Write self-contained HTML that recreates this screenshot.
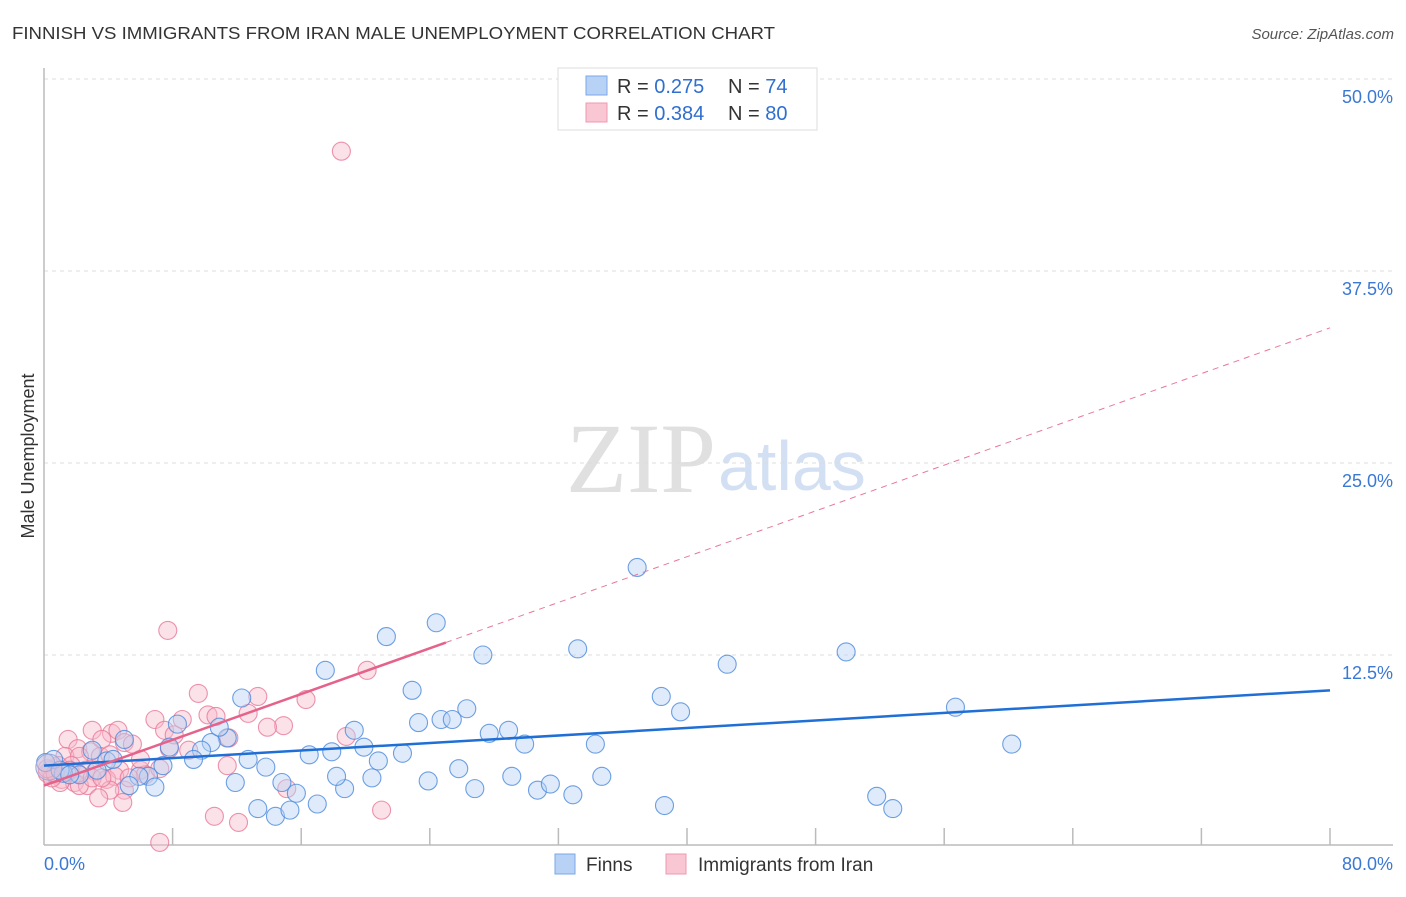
<!DOCTYPE html>
<html><head><meta charset="utf-8"><style>
body{margin:0;background:#fff;font-family:"Liberation Sans",sans-serif;}
svg text{font-family:"Liberation Sans",sans-serif;}
</style></head><body>
<svg id="chart" width="1406" height="892" viewBox="0 0 1406 892">
<text x="12" y="39" font-size="17.5" fill="#333" textLength="763" lengthAdjust="spacingAndGlyphs">FINNISH VS IMMIGRANTS FROM IRAN MALE UNEMPLOYMENT CORRELATION CHART</text>
<text x="1394" y="39" font-size="15" fill="#555" font-style="italic" text-anchor="end">Source: ZipAtlas.com</text>
<text x="34" y="456" font-size="18" fill="#333" transform="rotate(-90 34 456)" text-anchor="middle">Male Unemployment</text>
<text x="716" y="492" font-size="100" fill="#e0e0e0" text-anchor="end" style="font-family:'Liberation Serif',serif">ZIP</text>
<text x="718" y="490" font-size="70" fill="#d3e0f3">atlas</text>
<g id="grid"></g>
<g id="axes"></g>
<g id="pts"></g>
<g id="lines"></g>
<g>
<rect x="558" y="68" width="259" height="62" fill="#fff" stroke="#ddd"/>
<rect x="586" y="76" width="21" height="19" fill="#b8d2f5" stroke="#7aa8e8"/>
<rect x="586" y="103" width="21" height="19" fill="#f9c6d4" stroke="#ee9ab2"/>
<text x="617" y="93" font-size="20" fill="#333">R = <tspan fill="#2f6fd0">0.275</tspan></text>
<text x="728" y="93" font-size="20" fill="#333">N = <tspan fill="#2f6fd0">74</tspan></text>
<text x="617" y="120" font-size="20" fill="#333">R = <tspan fill="#2f6fd0">0.384</tspan></text>
<text x="728" y="120" font-size="20" fill="#333">N = <tspan fill="#2f6fd0">80</tspan></text>
</g>
<g>
<rect x="555" y="854" width="20" height="20" fill="#b8d2f5" stroke="#7aa8e8"/>
<text x="586" y="871" font-size="19" fill="#333">Finns</text>
<rect x="666" y="854" width="20" height="20" fill="#f9c6d4" stroke="#ee9ab2"/>
<text x="698" y="871" font-size="19" fill="#333">Immigrants from Iran</text>
</g>
</svg>
<script>
const yTicks=[12.5,25,37.5,50];
const yTickLabels=["12.5%","25.0%","37.5%","50.0%"];
const xTickCount=10;
const xLabels=["0.0%","80.0%"];
const finnsX=[21.3,24.4,36.9,17.5,27.3,33.2,42.5,49.9,22.9,12.3,26.3,38.4,39.6,56.7,23.3,24.7,25.4,19.3,27.7,28.9,29.9,34.3,60.2,11.4,10.4,8.3,10.9,7.8,9.8,7.4,9.3,12.7,16.5,17.9,19.9,20.8,22.3,13.8,14.8,15.7,17.0,18.7,20.4,18.2,23.9,25.8,26.8,29.1,30.7,31.5,32.9,34.7,38.6,51.8,52.8,13.3,14.4,15.3,11.9,6.5,6.9,5.9,5.0,3.9,4.3,3.0,2.2,1.2,0.6,0.1,5.3,3.3,1.0,1.6];
const finnsY=[13.7,14.6,18.2,11.5,12.5,12.9,11.9,12.7,10.2,9.7,9.0,9.8,8.8,9.1,8.1,8.3,8.3,7.6,7.4,7.6,6.7,6.7,6.7,7.1,6.8,8.0,7.8,6.5,6.3,5.3,5.7,5.7,6.0,6.2,6.5,5.6,6.1,5.2,4.2,3.5,2.8,3.8,4.5,4.6,4.3,5.1,3.8,4.6,3.7,4.1,3.4,4.6,2.7,3.3,2.5,2.5,2.0,2.4,4.2,4.6,3.9,4.6,7.0,5.6,5.7,6.3,4.7,4.8,5.7,5.5,4.0,5.0,5.0,4.7];
const iranX=[18.5,7.7,20.1,9.6,13.3,16.3,10.2,12.7,6.9,8.6,10.7,14.9,13.9,18.8,11.5,3.0,4.2,4.6,7.5,7.8,5.0,1.5,2.1,3.6,2.9,5.5,1.3,2.2,3.5,4.1,0.9,1.7,2.6,3.2,4.7,6.0,0.4,0.2,0.7,1.1,1.9,2.7,3.9,4.4,6.3,5.0,4.1,3.4,4.9,2.2,1.0,0.5,11.4,15.1,21.0,10.6,12.1,7.2,1.6,2.1,1.4,0.7,0.2,3.0,3.6,5.3,8.1,9.0,6.0,7.2];
const iranY=[45.3,14.1,11.5,10.0,9.8,9.6,8.6,8.7,8.3,8.3,8.5,7.9,7.8,7.2,7.1,7.6,7.4,7.6,7.6,6.4,6.8,7.0,6.4,7.0,6.2,6.7,5.9,5.9,5.9,6.0,5.3,5.3,5.0,4.9,5.0,5.0,5.0,4.8,4.7,4.4,4.2,4.0,4.4,4.6,4.7,3.7,3.7,3.2,2.9,4.0,4.2,4.5,5.3,3.8,2.4,2.0,1.6,0.3,5.0,4.8,4.9,4.8,5.1,4.5,4.5,4.5,7.3,6.3,5.7,5.1];
const finnsTrend=[5.3,10.2];
const iranTrend=[4.0,33.8];
const iranSolidEnd=25;
const ns="http://www.w3.org/2000/svg";
const X0=44,X1=1330,Y0=847,PXPER=192/12.5;
function sx(v){return X0+(X1-X0)*v/80;}
function sy(v){return Y0-v*PXPER;}
function mk(tag,attrs,parent){const e=document.createElementNS(ns,tag);for(const k in attrs)e.setAttribute(k,attrs[k]);parent.appendChild(e);return e;}
const grid=document.getElementById('grid'),axes=document.getElementById('axes'),pts=document.getElementById('pts'),lines=document.getElementById('lines');
yTicks.forEach((t,i)=>{
 const l=mk('line',{x1:X0,x2:1393,y1:sy(t),y2:sy(t),stroke:'#ddd','stroke-dasharray':'4,4'},grid);
 
 
 const tx=mk('text',{x:1393,y:sy(t)+24,'font-size':18,fill:'#3a78d4','text-anchor':'end'},axes);
 tx.textContent=yTickLabels[i];
 
 
});
let a=mk('line',{x1:X0,x2:X0,y1:68,y2:845,stroke:'#bbb','stroke-width':1.5},axes);


a=mk('line',{x1:X0,x2:1393,y1:845,y2:845,stroke:'#bbb','stroke-width':1.5},axes);


for(let i=1;i<=xTickCount;i++){
 const t=mk('line',{x1:sx(i*8),x2:sx(i*8),y1:828,y2:845,stroke:'#bbb','stroke-width':1.5},axes);
 
 
}
let xl=mk('text',{x:44,y:870,'font-size':18,fill:'#3a78d4'},axes);xl.textContent=xLabels[0];


xl=mk('text',{x:1393,y:870,'font-size':18,fill:'#3a78d4','text-anchor':'end'},axes);xl.textContent=xLabels[1];


function dots(xs,ys,fill,stroke,name){
 xs.forEach((x,i)=>{
  const c=mk('circle',{cx:sx(x),cy:sy(ys[i]),r:9,fill:fill,'fill-opacity':0.45,stroke:stroke,'stroke-opacity':0.8,'stroke-width':1.1},pts);
  
  
 });
}
dots(iranX,iranY,'#f7bccd','#e87898','point-iran');
dots(finnsX,finnsY,'#b8d2f5','#4a88dc','point-finns');
let big=mk('circle',{cx:sx(0.3),cy:sy(5.2),r:13,fill:'#d9bfd8','fill-opacity':0.5,stroke:'#9aa8d8'},pts);


let L=mk('line',{x1:sx(0),y1:sy(finnsTrend[0]),x2:sx(80),y2:sy(finnsTrend[1]),stroke:'#1f6fd6','stroke-width':2.5},lines);


const iy=v=>iranTrend[0]+(iranTrend[1]-iranTrend[0])*v/80;
L=mk('line',{x1:sx(0),y1:sy(iranTrend[0]),x2:sx(iranSolidEnd),y2:sy(iy(iranSolidEnd)),stroke:'#e5628a','stroke-width':2.5},lines);


L=mk('line',{x1:sx(iranSolidEnd),y1:sy(iy(iranSolidEnd)),x2:sx(80),y2:sy(iranTrend[1]),stroke:'#e87898','stroke-width':1,'stroke-dasharray':'6,5'},lines);


</script>
</body></html>
